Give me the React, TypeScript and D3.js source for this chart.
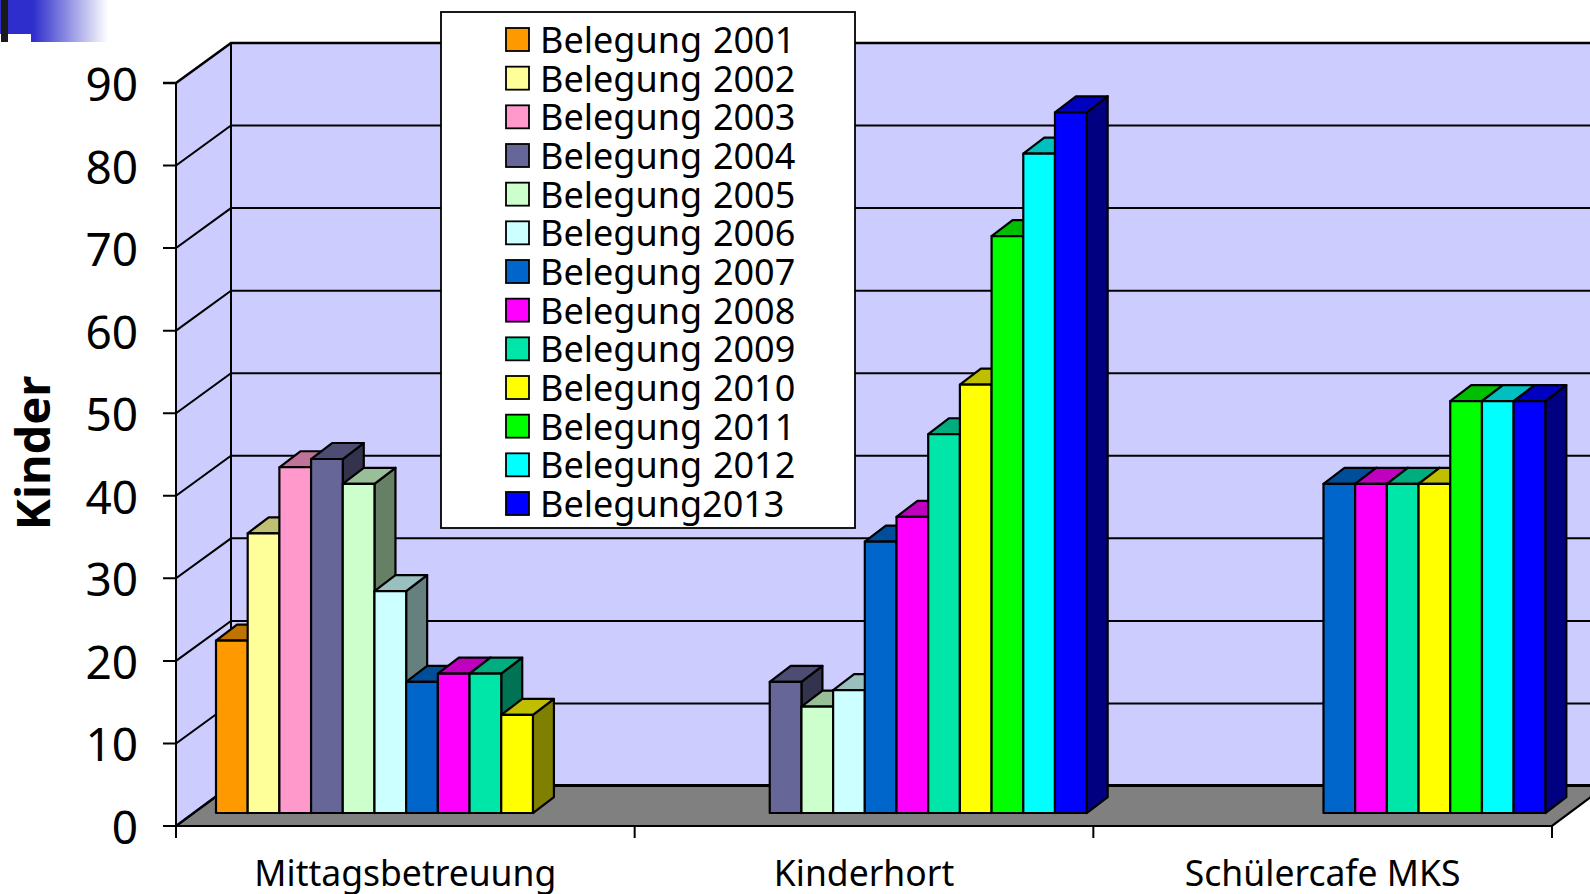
import React from "react";
import * as d3 from "d3";

const categories = ["Mittagsbetreuung", "Kinderhort", "Schülercafe MKS"];
const seriesNames = ["Belegung 2001","Belegung 2002","Belegung 2003","Belegung 2004","Belegung 2005","Belegung 2006","Belegung 2007","Belegung 2008","Belegung 2009","Belegung 2010","Belegung 2011","Belegung 2012","Belegung2013"];
const seriesColors = ["#ff9900","#ffff99","#ff99cc","#666699","#ccffcc","#ccffff","#0066cc","#ff00ff","#00e6a8","#ffff00","#00ff00","#00ffff","#0000ff"];
const mittagsbetreuung = [21,34,42,43,40,27,16,17,17,12,null,null,null];
const kinderhort = [null,null,null,16,13,15,33,36,46,52,70,80,85];
const schuelercafe = [null,null,null,null,null,null,40,40,40,40,50,50,50];
const yTicks = [0,10,20,30,40,50,60,70,80,90];

const values = [mittagsbetreuung, kinderhort, schuelercafe];
const FONT = "'Noto Sans', sans-serif";

const x0 = d3.scaleBand<string>().domain(categories).range([176, 1552]);
const y = d3.scaleLinear().domain([0, 90]).range([826, 83]);
const slot = d3.scaleBand<number>().domain(d3.range(13)).range([22, 22 + 412]);
const WALL_DX = 55, WALL_DY = -40;
const BAR_SHIFT_X = 18, BAR_SHIFT_Y = -13;
const BAR_DX = 21, BAR_DY = -16;
const legendRow = d3.scaleLinear().domain([0, 12]).range([40, 504]);

const pts = (p: number[][]) => p.map((q) => q.join(",")).join(" ");
const shade = (c: string, k: number) => {
  const r = d3.rgb(c);
  return d3.rgb(r.r * k, r.g * k, r.b * k).formatHex();
};

export default function App() {
  const right = x0.range()[1];
  return (
    <svg width={1590} height={894} style={{ position: "absolute", left: 0, top: 0, display: "block", background: "#fff" }}>
      <defs>
        <linearGradient id="corner" gradientUnits="userSpaceOnUse" x1={33} x2={108} y1={0} y2={0}>
          <stop offset="0" stopColor="#2e2ecc" />
          <stop offset="1" stopColor="#ffffff" />
        </linearGradient>
      </defs>
      <rect x={0} y={0} width={108} height={34} fill="url(#corner)" />
      <rect x={31} y={34} width={77} height={8} fill="url(#corner)" />
      <rect x={1} y={0} width={7} height={42} fill="#1a1a1a" />

      {/* walls and floor */}
      <polygon points={pts([[176, y(0)],[176, y(90)],[176 + WALL_DX, y(90) + WALL_DY],[176 + WALL_DX, y(0) + WALL_DY]])} fill="#ccccff" />
      <rect x={176 + WALL_DX} y={y(90) + WALL_DY} width={right - 176} height={y(0) - y(90)} fill="#ccccff" />
      <polygon points={pts([[176, y(0)],[176 + WALL_DX, y(0) + WALL_DY - 1],[right + WALL_DX, y(0) + WALL_DY - 1],[right, y(0)]])} fill="#808080" stroke="#000" strokeWidth={2.2} />
      {yTicks.map((t) => (
        <g key={t}>
          <polyline points={pts([[163, y(t)],[176, y(t)],[176 + WALL_DX, y(t) + WALL_DY],[right + WALL_DX, y(t) + WALL_DY]])} fill="none" stroke="#000" strokeWidth={t === 90 ? 2.6 : 2} />
          <text x={138} y={y(t) + 18} textAnchor="end" fontFamily={FONT} fontSize={46} fill="#000">{t}</text>
        </g>
      ))}
      <line x1={176} x2={176} y1={y(90)} y2={838} stroke="#000" strokeWidth={2} />
      <line x1={176 + WALL_DX} x2={176 + WALL_DX} y1={y(90) + WALL_DY} y2={y(0) + WALL_DY} stroke="#000" strokeWidth={2} />
      {[...categories.map((c) => x0(c) as number), right].map((tx) => (
        <line key={tx} x1={tx} x2={tx} y1={y(0)} y2={838} stroke="#000" strokeWidth={2} />
      ))}

      {/* bars */}
      {categories.map((c, ci) =>
        values[ci].map((v, si) => {
          if (v == null) return null;
          const col = seriesColors[si];
          const xl = (x0(c) as number) + BAR_SHIFT_X + (slot(si) as number);
          const xr = xl + slot.bandwidth();
          const yb = y(0) + BAR_SHIFT_Y;
          const yt = y(v) + BAR_SHIFT_Y + 1;
          return (
            <g key={c + si} stroke="#000" strokeWidth={2.2} strokeLinejoin="round">
              <polygon points={pts([[xr, yt],[xr + BAR_DX, yt + BAR_DY],[xr + BAR_DX, yb + BAR_DY],[xr, yb]])} fill={shade(col, 0.5)} />
              <polygon points={pts([[xl, yt],[xl + BAR_DX, yt + BAR_DY],[xr + BAR_DX, yt + BAR_DY],[xr, yt]])} fill={shade(col, 0.75)} />
              <rect x={xl} y={yt} width={xr - xl} height={yb - yt} fill={col} />
            </g>
          );
        })
      )}

      {/* axis labels */}
      {categories.map((c) => (
        <text key={c} x={(x0(c) as number) + x0.bandwidth() / 2} y={886} textAnchor="middle" fontFamily={FONT} fontSize={35.5} fill="#000">{c}</text>
      ))}
      <text transform="translate(50,453) rotate(-90)" textAnchor="middle" fontFamily={FONT} fontWeight={700} fontSize={47} fill="#000">Kinder</text>

      {/* legend */}
      <rect x={441} y={12} width={414} height={516} fill="#fff" stroke="#000" strokeWidth={1.8} />
      {seriesNames.map((n, i) => (
        <g key={n}>
          <rect x={506} y={legendRow(i) - 12} width={23} height={23} fill={seriesColors[i]} stroke="#000" strokeWidth={1.8} />
          <text x={540} y={legendRow(i) + 13} fontFamily={FONT} fontSize={36} wordSpacing={1.5} fill="#000">{n}</text>
        </g>
      ))}
    </svg>
  );
}
